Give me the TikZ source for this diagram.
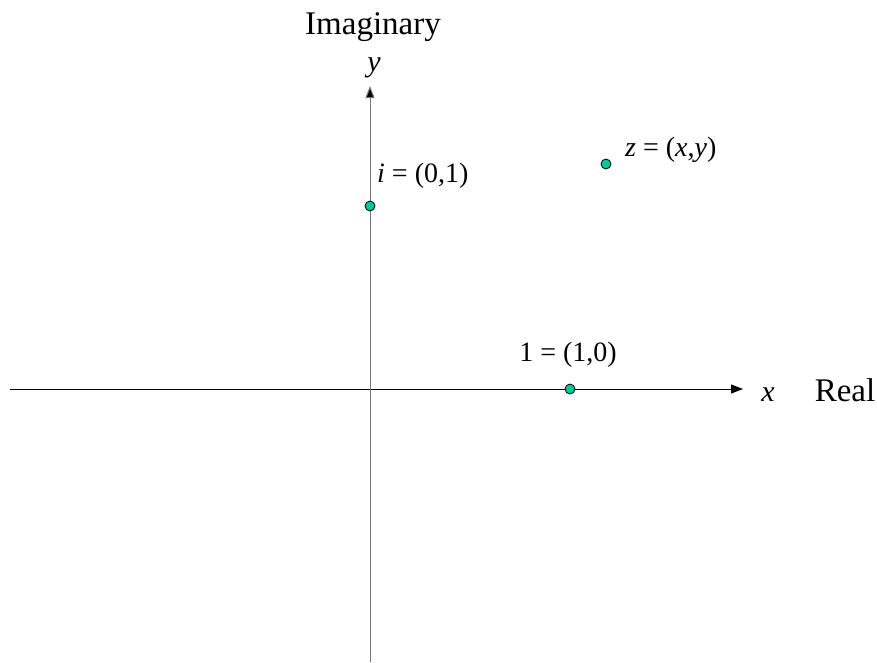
\documentclass[tikz,border=0pt]{standalone}
\usepackage{fontspec}
\setmainfont{Liberation Serif}
\usetikzlibrary{arrows.meta}
\definecolor{dotgreen}{RGB}{0,200,150}
\definecolor{axisgray}{RGB}{120,120,120}
\begin{document}
\begin{tikzpicture}[x=1pt,y=-1pt,
  dot/.style={circle,draw=black,fill=dotgreen,line width=0.8pt,inner sep=0pt,minimum size=10pt},
  lbl/.style={inner sep=0pt,font=\fontsize{28}{32}\selectfont},
  big/.style={inner sep=0pt,font=\fontsize{33}{38}\selectfont},
  axis/.style={line width=1pt,-{Triangle[length=12pt,width=9pt,fill=black]}}]
\useasboundingbox (0,0) rectangle (877,662);
\coordinate (xs) at (10,389);
\coordinate (xe) at (743,389);
\coordinate (ys) at (370,662);
\coordinate (ye) at (370,86);
\draw[axis,draw=black] (xs) -- (xe);
\draw[axis,draw=axisgray] (ys) -- (ye);
\node[dot] (i) at (370,206) {};
\node[dot] (one) at (570,389) {};
\node[dot] (z) at (606,164) {};
\node[big] (imag) at (373,27) {Imaginary};
\node[lbl,font=\fontsize{30}{34}\selectfont] (ylab) at (374,68) {\textit{y}};
\node[lbl,anchor=west] (ilab) at (377,176) {\textit{i} = (0,1)};
\node[lbl,anchor=west] (zlab) at (625,150) {\textit{z} = (\textit{x},\textit{y})};
\node[lbl] (onelab) at (568,355) {1 = (1,0)};
\node[lbl,font=\fontsize{30}{34}\selectfont,anchor=base] (xlab) at (768,401) {\textit{x}};
\node[big,anchor=base] (real) at (845,401) {Real};
\end{tikzpicture}
\end{document}
